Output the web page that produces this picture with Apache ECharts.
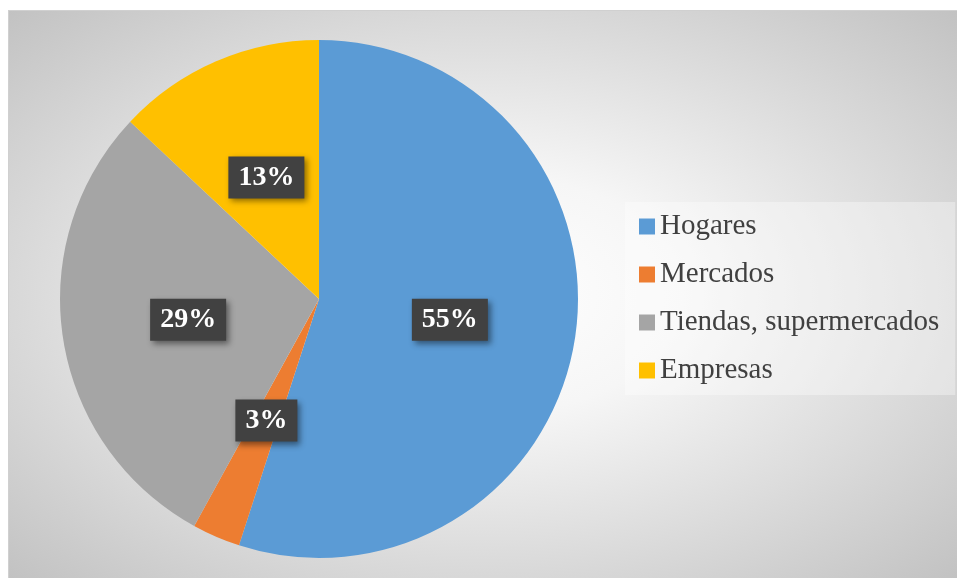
<!DOCTYPE html>
<html>
<head>
<meta charset="utf-8">
<script src="https://cdn.jsdelivr.net/npm/echarts@6/dist/echarts.min.js"></script>
<style>
  html, body { margin: 0; padding: 0; background: #ffffff; width: 957px; height: 578px; overflow: hidden; }
  #chart {
    position: absolute; left: 8px; top: 10px; width: 948px; height: 567px;
    border: 1px solid #d0d0d0;
    background: radial-gradient(ellipse farthest-corner at 50% 50%, #ffffff 0%, #f6f6f6 30%, #c2c2c2 100%);
  }
</style>
</head>
<body>
<div id="chart"></div>
<script>
const categories = ['Hogares', 'Mercados', 'Tiendas, supermercados', 'Empresas'];
const values = [55, 3, 29, 13];
const colors = ['#5B9BD5', '#ED7D31', '#A5A5A5', '#FFC000'];

const chart = echarts.init(document.getElementById('chart'), null, { renderer: 'canvas' });
chart.setOption({
  backgroundColor: 'transparent',
  animation: false,
  color: colors,
  legend: {
    orient: 'vertical',
    left: 616,
    top: 191,
    padding: [10, 16, 10, 14],
    backgroundColor: 'rgba(255,255,255,0.35)',
    itemWidth: 16,
    itemHeight: 16,
    itemGap: 19,
    icon: 'rect',
    data: categories,
    textStyle: {
      fontFamily: 'Liberation Serif',
      fontSize: 29,
      color: '#404040'
    }
  },
  series: [{
    type: 'pie',
    center: [310, 288],
    radius: [0, 259],
    startAngle: 90,
    clockwise: true,
    avoidLabelOverlap: false,
    itemStyle: { borderWidth: 0 },
    label: {
      show: true,
      position: 'inside',
      formatter: '{d}%',
      fontFamily: 'Liberation Serif',
      fontWeight: 'bold',
      fontSize: 28,
      lineHeight: 27,
      color: '#ffffff',
      backgroundColor: '#414141',
      padding: [8, 10, 7, 10],
      shadowColor: 'rgba(0,0,0,0.45)',
      shadowBlur: 6,
      shadowOffsetX: 3,
      shadowOffsetY: 3
    },
    labelLine: { show: false },
    emphasis: { disabled: true },
    data: categories.map((name, i) => ({ name: name, value: values[i] }))
  }]
});
</script>
</body>
</html>
